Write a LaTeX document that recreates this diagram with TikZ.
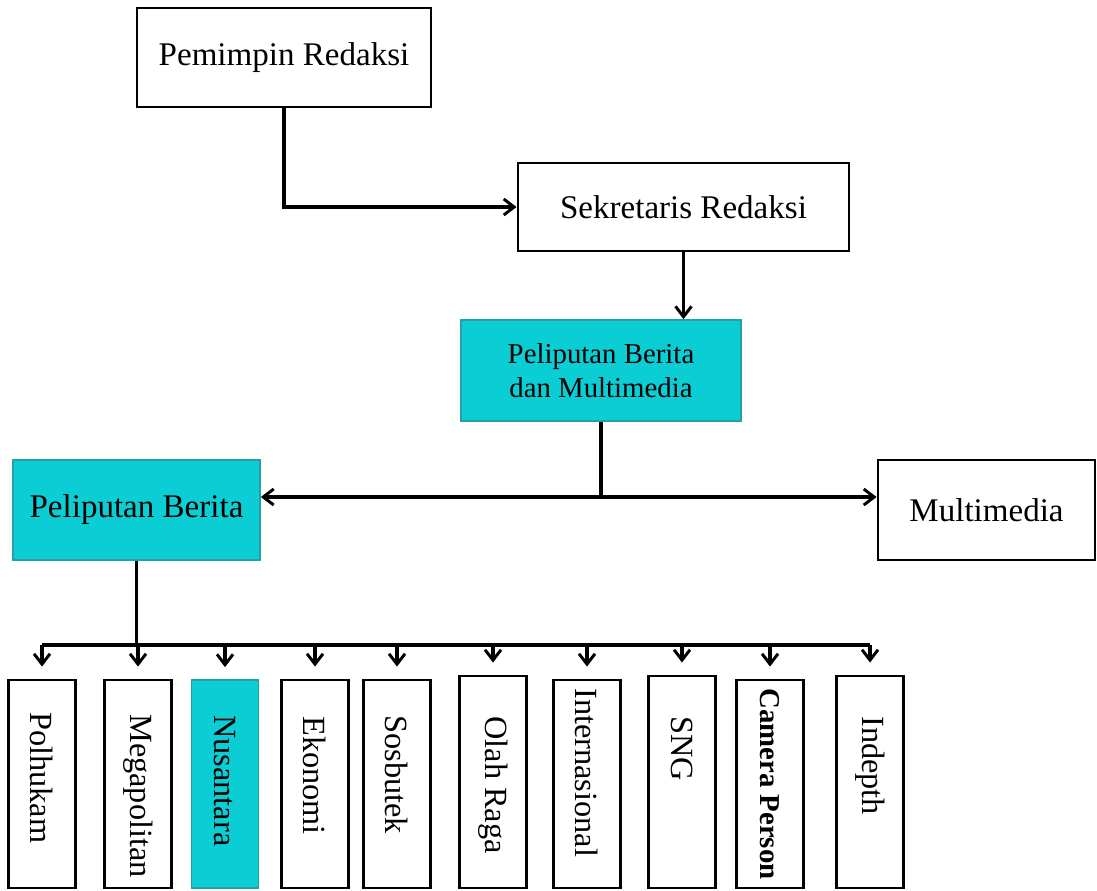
\documentclass[tikz,border=0pt]{standalone}
\usepackage{fontspec}
\setmainfont{Liberation Serif}
\usepackage{xcolor}
\usepackage{tikz}
\usetikzlibrary{arrows.meta,positioning,calc}
\definecolor{tosca}{RGB}{11,206,213}
\definecolor{toscaline}{RGB}{38,160,165}

\begin{document}
\begin{tikzpicture}[x=0.025cm,y=-0.025cm,
    box/.style={draw,rectangle,line width=2pt,inner sep=0pt,font=\fontsize{23.5}{28}\selectfont},
    cyanbox/.style={box,draw=toscaline,line width=1.2pt,fill=tosca},
    subbox/.style={draw,rectangle,line width=2pt,minimum width=1.68cm,inner sep=0pt},
    sublabel/.style={rotate=-90,anchor=west,inner sep=0pt,font=\fontsize{23}{28}\selectfont},
    tip/.tip={Straight Barb[length=2.6mm,width=4mm,line width=2.1pt]},
    conn/.style={line width=2.2pt,-tip},
    line/.style={line width=2.2pt}]
            \useasboundingbox (0,0) rectangle (1097,890);
            
            % Top levels
            \node[box,minimum width=7.35cm,minimum height=2.475cm] (pemimpin) at (284,57.5) {Pemimpin Redaksi};
            \node[box,minimum width=8.275cm,minimum height=2.2cm] (sekretaris) at (683.5,207) {Sekretaris Redaksi};
            \node[cyanbox,minimum width=7cm,minimum height=2.525cm,align=center,font=\fontsize{20.5}{24.5}\selectfont] (pbm) at (601,370.5) {Peliputan Berita\\dan Multimedia};
            \node[cyanbox,minimum width=6.175cm,minimum height=2.5cm] (peliputan) at (136.5,510) {Peliputan Berita};
            \node[box,minimum width=5.425cm,minimum height=2.5cm] (multimedia) at (986.5,510) {Multimedia};
            
            % Desks
            \node[subbox,minimum height=5.2cm] (polhukam) at (42,784) {};
            \node[subbox,minimum height=5.2cm] (megapolitan) at (138,784) {};
            \node[subbox,minimum height=5.2cm,draw=toscaline,line width=1.2pt,fill=tosca] (nusantara) at (225,784) {};
            \node[subbox,minimum height=5.2cm] (ekonomi) at (315,784) {};
            \node[subbox,minimum height=5.2cm] (sosbutek) at (397,784) {};
            \node[subbox,minimum height=5.3cm] (olahraga) at (493,782) {};
            \node[subbox,minimum height=5.2cm] (internasional) at (587,784) {};
            \node[subbox,minimum height=5.3cm] (sng) at (682,782) {};
            \node[subbox,minimum height=5.2cm] (camera) at (770,784) {};
            \node[subbox,minimum height=5.3cm] (indepth) at (870,782) {};
            
            \node[sublabel] (polhukamtxt) at (42,712) {Polhukam};
            \node[sublabel] (megapolitantxt) at (138,714) {Megapolitan};
            \node[sublabel] (nusantaratxt) at (225,715) {Nusantara};
            \node[sublabel] (ekonomitxt) at (315,716) {Ekonomi};
            \node[sublabel] (sosbutektxt) at (397,715) {Sosbutek};
            \node[sublabel] (olahragatxt) at (493,716) {Olah Raga};
            \node[sublabel] (internasionaltxt) at (587,688) {Internasional};
            \node[sublabel] (sngtxt) at (682,716) {SNG};
            \node[sublabel,font=\fontsize{20.5}{24}\bfseries] (cameratxt) at (770,688) {Camera Person};
            \node[sublabel] (indepthtxt) at (870,716) {Indepth};
            
            % Connections
            \coordinate (split) at (0,497);
            \coordinate (bus) at (0,645);
            \draw[conn] (pemimpin.south) |- (sekretaris.west);
            \draw[conn] (sekretaris.south) -- (sekretaris.south |- pbm.north);
            \draw[line] (pbm.south) -- (pbm.south |- split);
            \draw[line,tip-tip] (split -| peliputan.east) -- (split -| multimedia.west);
            \draw[line] (peliputan.south) -- (peliputan.south |- bus);
            \draw[line] (polhukam.north |- bus) -- (indepth.north |- bus);
            \foreach \desk in {polhukam,megapolitan,nusantara,ekonomi,sosbutek,olahraga,internasional,sng,camera,indepth}
                \draw[conn,shorten >=0.3cm] (\desk.north |- bus) -- (\desk.north);
        \end{tikzpicture}
\end{document}
